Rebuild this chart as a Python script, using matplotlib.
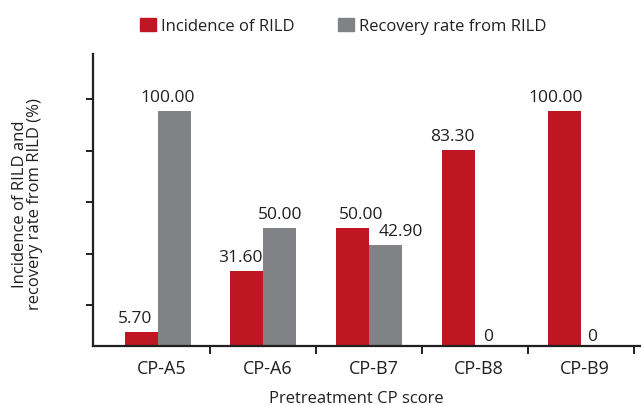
import matplotlib
matplotlib.use("Agg")
import matplotlib.pyplot as plt
from matplotlib.patches import Patch
import numpy as np

categories = ["CP-A5", "CP-A6", "CP-B7", "CP-B8", "CP-B9"]
incidence = [5.70, 31.60, 50.00, 83.30, 100.00]
recovery = [100.00, 50.00, 42.90, 0, 0]
series_names = ["Incidence of RILD", "Recovery rate from RILD"]
y_ticks = [17.3, 39.2, 61.1, 83.0, 104.9]

# label nudges in pixels (layout only)
inc_dx = [-6, -6, 8, -6, -9]
rec_dx = [-6, 0, 15, -3, -5]

red = "#BE1622"
grey = "#808285"
dark = "#231F20"

plt.rcParams['font.family'] = ['Open Sans', 'DejaVu Sans']

fig = plt.figure(figsize=(6.41, 4.06), dpi=100)
ax = fig.add_axes([92.7 / 641, 1 - 346.7 / 406, 1 - 92.7 / 641, (346.7 - 55) / 406])

x = np.arange(len(categories))
w = 0.312
ax.bar(x - w / 2, incidence, w, color=red, linewidth=0)
ax.bar(x + w / 2, recovery, w, color=grey, linewidth=0)

px2pt = 0.72
for xi, v, dx in zip(x - w / 2, incidence, inc_dx):
    ax.annotate(f"{v:.2f}", (xi, v), xytext=(dx * px2pt, 10 * px2pt), textcoords="offset points",
                ha="center", va="baseline", fontsize=12.5, color=dark)
for xi, v, dx in zip(x + w / 2, recovery, rec_dx):
    txt = "0" if v == 0 else f"{v:.2f}"
    dy = 6 if v == 0 else 10
    ax.annotate(txt, (xi, v), xytext=(dx * px2pt, dy * px2pt), textcoords="offset points",
                ha="center", va="baseline", fontsize=12.5, color=dark)

ax.set_xlim(-0.613, 4.569)
ax.set_ylim(0, 124.1)
ax.set_yticks(y_ticks)
ax.set_yticklabels([])
ax.tick_params(axis='y', direction='out', length=5, width=1.4, color=dark)
ax.set_xticks(x + 0.04)
ax.set_xticklabels(categories, fontsize=13, color=dark)
ax.set_xticks(x + 0.5, minor=True)
ax.tick_params(axis='x', which='major', length=0, pad=9.3)
ax.tick_params(axis='x', which='minor', direction='out', length=5.5, width=1.4, color=dark)

for s in ['top', 'right']:
    ax.spines[s].set_visible(False)
for s in ['left', 'bottom']:
    ax.spines[s].set_linewidth(1.6)
    ax.spines[s].set_color(dark)

ax.set_ylabel("Incidence of RILD and\nrecovery rate from RILD (%)", fontsize=12, color=dark,
              linespacing=0.9)
ax.yaxis.set_label_coords(-0.0906, 0.4875)
ax.set_xlabel("Pretreatment CP score", fontsize=12, color=dark, va='top')
ax.xaxis.set_label_coords(0.48, -0.152)

handles = [Patch(color=red, label=series_names[0]), Patch(color=grey, label=series_names[1])]
fig.legend(handles=handles, loc='center left', bbox_to_anchor=(140 / 641, 1 - 27 / 406), ncol=2,
           frameon=False, fontsize=12, handlelength=0.94, handleheight=0.85, handletextpad=0.32,
           columnspacing=2.6, borderpad=0, borderaxespad=0, labelcolor=dark)

fig.savefig("out.png", dpi=100)
